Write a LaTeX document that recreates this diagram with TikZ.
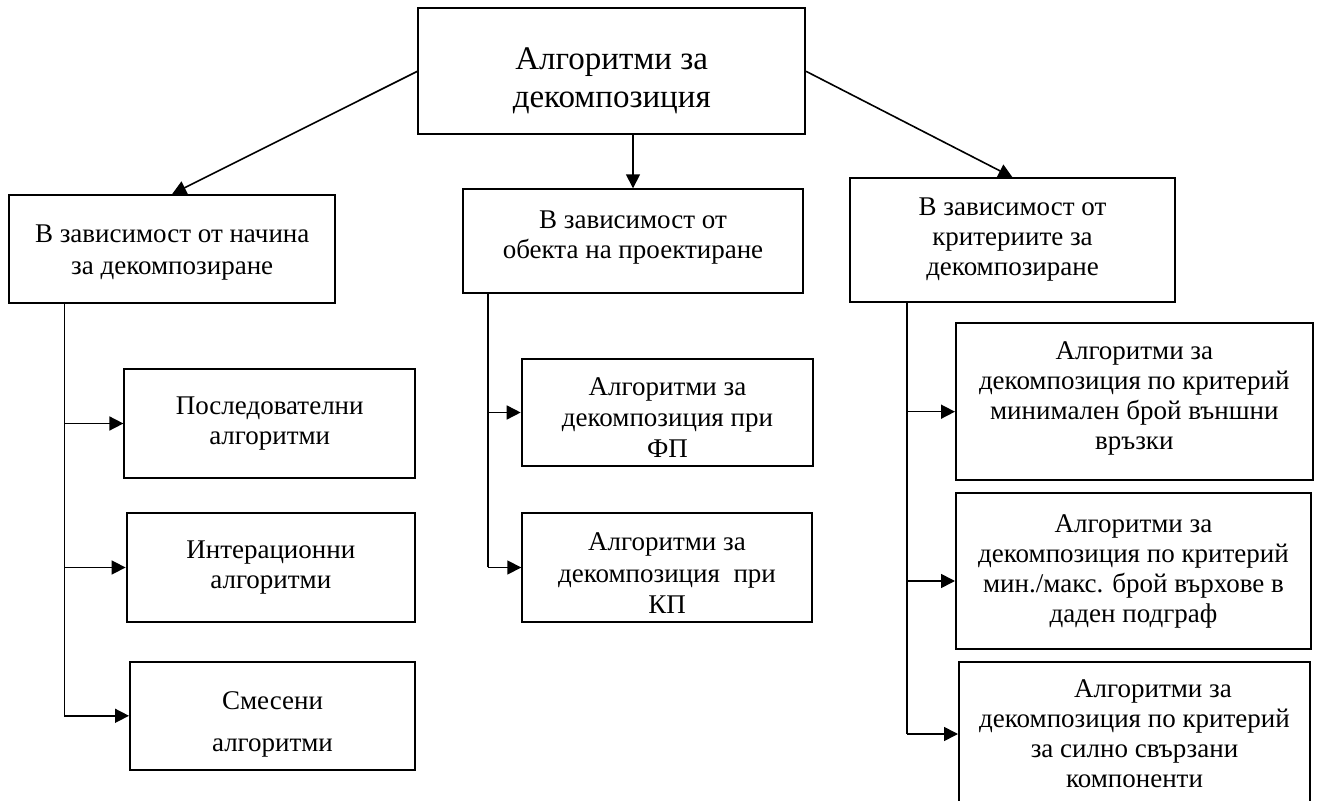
\documentclass[tikz,border=0pt]{standalone}
\usepackage{fontspec}
\setmainfont{Liberation Serif}
\usetikzlibrary{arrows.meta}
% move the lines of a box down or up inside it
\newcommand{\tdown}[1]{\rule{0pt}{\dimexpr\fontcharht\font`А+2\dimexpr#1\relax\relax}}
\newcommand{\tup}[1]{\rule[-\dimexpr\fontchardp\font`р+2\dimexpr#1\relax\relax]{0pt}{0pt}}

\begin{document}
\begin{tikzpicture}[x=0.5pt,y=-0.5pt,
    every node/.style={font=\fontsize{13.5}{15}\selectfont},
    box/.style={draw,line width=1pt,align=center,inner sep=0pt},
    arr/.style={-{Triangle[length=7pt,width=7pt]},line width=0.8pt},
    bus/.style={line width=0.8pt}]
    \useasboundingbox (0,0) rectangle (1317,801);
    \clip (0,0) rectangle (1317,801);
    % top
    \node[box,minimum width=193.3pt,minimum height=63pt,font=\fontsize{16.5}{19}\selectfont] (top) at (611.7,71.3) {\tdown{5pt}Алгоритми за\\декомпозиция};
    % second level
    \node[box,minimum width=162.8pt,minimum height=54pt,font=\fontsize{13.5}{16}\selectfont] (L1) at (172.2,249) {\tdown{2pt}В зависимост от начина\\за декомпозиране};
    \node[box,minimum width=170.3pt,minimum height=51.7pt] (L2) at (633,241) {В зависимост от\\обекта на проектиране\tup{1.5pt}};
    \node[box,minimum width=162.5pt,minimum height=61.7pt] (L3) at (1012.5,240) {В зависимост от\\критериите за\\декомпозиране};
    \draw[arr] (top.west) -- (L1.north);
    \draw[arr] (top.south -| L2.north) -- (L2.north);
    \draw[arr] (top.east) -- (L3.north);
    % left branch
    \node[box,minimum width=145.3pt,minimum height=54.2pt] (A1) at (269.7,423.5) {Последователни\\алгоритми};
    \node[box,minimum width=144.2pt,minimum height=54.2pt] (A2) at (270.8,567.5) {Интерационни\\алгоритми};
    \node[box,minimum width=142.5pt,minimum height=54.2pt,font=\fontsize{13.5}{21}\selectfont] (A3) at (272.5,715.8) {\tdown{4.5pt}Смесени\\алгоритми};
    \coordinate (lb) at (64.3,0);
    \draw[bus] (L1.south -| lb) -- (lb |- A3.west);
    \foreach \n in {A1,A2,A3}{
        \draw[arr] (lb |- \n.west) -- (\n.west);
    }
    % middle branch
    \node[box,minimum width=145.8pt,minimum height=53.5pt,font=\fontsize{13.5}{15.5}\selectfont] (B1) at (667.5,412.5) {\tdown{2.5pt}Алгоритми за\\декомпозиция при\\ФП};
    \node[box,minimum width=144.7pt,minimum height=54.2pt,font=\fontsize{13.5}{15.8}\selectfont] (B2) at (667,567.5) {\tdown{3pt}Алгоритми за\\декомпозиция\ \ при\\КП};
    \coordinate (mb) at (487.7,0);
    \draw[bus] (L2.south -| mb) -- (mb |- B2.west);
    \foreach \n in {B1,B2}{
        \draw[arr] (mb |- \n.west) -- (\n.west);
    }
    % right branch
    \node[box,minimum width=178.3pt,minimum height=78.3pt] (C1) at (1134.3,401.7) {Алгоритми за\\декомпозиция по критерий\\минимален брой външни\\връзки\tup{1.5pt}};
    \node[box,minimum width=177.5pt,minimum height=78.3pt] (C2) at (1133.5,571) {Алгоритми за\\декомпозиция по критерий\\мин./макс. брой върхове в\\даден подграф};
    \node[box,minimum width=175.5pt,minimum height=71.8pt] (C3) at (1134.5,734) {\hspace*{18.5pt}Алгоритми за\\декомпозиция по критерий\\за силно свързани\\компоненти};
    \coordinate (rb) at (906.7,0);
    \coordinate (c1in) at ([yshift=-5pt]C1.west);
    \coordinate (c2in) at ([yshift=-5pt]C2.west);
    \draw[bus] (L3.south -| rb) -- (rb |- C3.west);
    \foreach \n in {c1in,c2in,C3.west}{
        \draw[arr] (rb |- \n) -- (\n);
    }
\end{tikzpicture}
\end{document}
